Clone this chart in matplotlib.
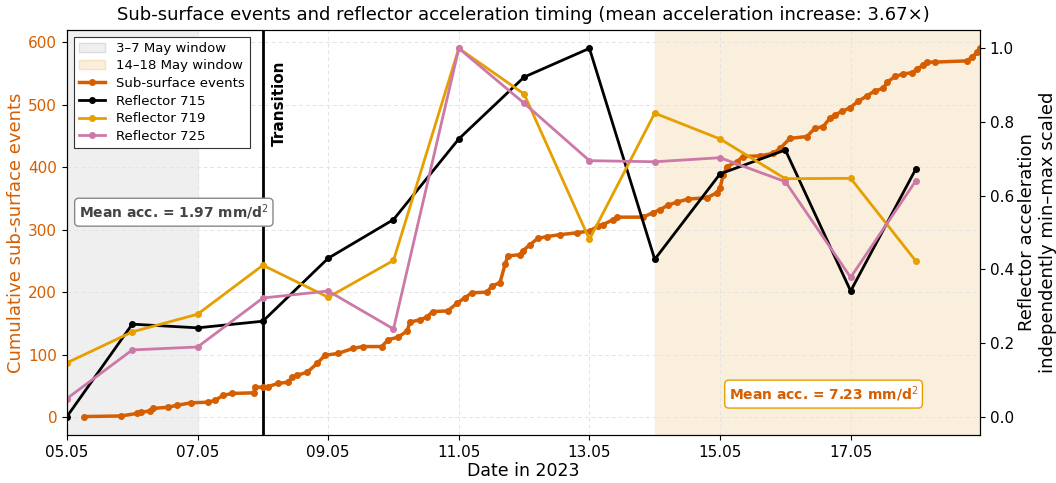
import numpy as np
import pandas as pd
import matplotlib
matplotlib.use("Agg")
import matplotlib.pyplot as plt
import matplotlib.dates as mdates
from matplotlib.patches import Patch
from matplotlib.lines import Line2D

# day of May 2023 (fractional) and cumulative count of sub-surface events
event_day = [5.26, 5.83, 6.07, 6.13, 6.27, 6.32, 6.55, 6.68, 6.90, 7.16, 7.27, 7.39, 7.53,
             7.86, 7.88, 8.00, 8.08, 8.23, 8.38, 8.45, 8.52, 8.68, 8.83, 8.95, 9.15, 9.38,
             9.53, 9.82, 9.92, 10.07, 10.21, 10.25, 10.41, 10.51, 10.60, 10.83, 10.97, 11.09,
             11.20, 11.43, 11.51, 11.63, 11.71, 11.75, 11.94, 11.98, 12.09, 12.21, 12.35,
             12.55, 12.81, 13.01, 13.13, 13.21, 13.36, 13.42, 13.82, 13.97, 14.08, 14.20,
             14.34, 14.51, 14.80, 14.95, 15.00, 15.05, 15.11, 15.26, 15.35, 15.61, 15.81,
             15.92, 16.07, 16.33, 16.45, 16.58, 16.68, 16.76, 16.87, 16.99, 17.11, 17.25,
             17.37, 17.50, 17.56, 17.68, 17.80, 17.94, 18.02, 18.11, 18.17, 18.29, 18.78,
             18.86, 18.94, 18.98]
event_count = [1, 2, 6, 8, 10, 14, 16, 19, 23, 24, 27, 35, 38,
               39, 48, 48, 49, 54, 56, 64, 67, 72, 86, 99, 102, 110,
               113, 113, 124, 128, 138, 152, 156, 160, 169, 170, 182, 191,
               199, 200, 210, 215, 245, 258, 260, 266, 276, 286, 289,
               292, 295, 298, 306, 308, 316, 320, 320, 327, 332, 339,
               344, 349, 351, 359, 367, 388, 401, 409, 417, 418, 422,
               430, 446, 449, 462, 465, 478, 484, 489, 495, 505, 514,
               522, 526, 536, 545, 549, 551, 557, 563, 568, 568, 570,
               576, 584, 590]

refl_day = [5, 6, 7, 8, 9, 10, 11, 12, 13, 14, 15, 16, 17, 18]
refl_715 = [0.0, 0.251, 0.241, 0.259, 0.430, 0.535, 0.754, 0.922, 1.0, 0.427, 0.659, 0.724, 0.341, 0.673]
refl_719 = [0.146, 0.230, 0.278, 0.411, 0.324, 0.424, 1.0, 0.876, 0.481, 0.824, 0.754, 0.646, 0.647, 0.422]
refl_725 = [0.049, 0.181, 0.189, 0.322, 0.341, 0.238, 1.0, 0.851, 0.695, 0.692, 0.703, 0.638, 0.378, 0.641]

mean_before = 1.97
mean_after = 7.23
ratio = 3.67


def may(d):
    d = np.asarray(d, dtype=float)
    return pd.Timestamp("2023-05-01") + pd.to_timedelta(d - 1, unit="D")


ev_t = may(event_day)
rf_t = may(refl_day)

c_ev = "#D55E00"
c_715 = "black"
c_719 = "#E69F00"
c_725 = "#CC79A7"

fig = plt.figure(figsize=(10.56, 4.83), dpi=100)
ax = fig.add_axes([0.0634, 0.0994, 0.8646, 0.8386])
ax2 = ax.twinx()

ax.axvspan(may(3), may(7), color="#EFEFEF", zorder=0)
ax.axvspan(may(14), may(19), color="#FAEFDC", zorder=0)
ax.axvline(may(8), color="black", lw=2, zorder=3)

ax.plot(ev_t, event_count, "-o", color=c_ev, lw=2.5, ms=4, zorder=4)

ax2.plot(rf_t, refl_715, "-o", color=c_715, lw=2, ms=4)
ax2.plot(rf_t, refl_719, "-o", color=c_719, lw=2, ms=4)
ax2.plot(rf_t, refl_725, "-o", color=c_725, lw=2, ms=4)

ax.set_xlim(may(5), may(18.98))
ax.grid(True, ls=(0, (4, 3)), color="#E4E4E4", lw=0.7)
ax.set_axisbelow(True)
ax.xaxis.set_major_locator(mdates.DayLocator(bymonthday=[5, 7, 9, 11, 13, 15, 17]))
ax.xaxis.set_major_formatter(mdates.DateFormatter("%d.%m"))
ax.tick_params(axis="both", labelsize=11)
ax.tick_params(axis="y", labelcolor=c_ev)
ax2.tick_params(axis="y", labelsize=11)
ax2.set_yticks([0, 0.2, 0.4, 0.6, 0.8, 1.0])

ax.set_xlabel("Date in 2023", fontsize=12.5, labelpad=2)
ax.set_ylabel("Cumulative sub-surface events", color=c_ev, fontsize=13, labelpad=2)
ax2.set_ylabel("Reflector acceleration\nindependently min\u2013max scaled", fontsize=13,
               labelpad=3)
ax.set_title("Sub-surface events and reflector acceleration timing "
             "(mean acceleration increase: %.2f\u00d7)" % ratio, fontsize=13, pad=7)

ax.text(may(8.25), 0.925, "Transition", rotation=90, fontsize=11, fontweight="bold",
        va="top", ha="center", transform=ax.get_xaxis_transform(), zorder=5)

ax.text(0.013, 0.55, "Mean acc. = %.2f mm/d$^2$" % mean_before, transform=ax.transAxes,
        fontsize=10, fontweight="bold", color="#444444", va="center", ha="left", zorder=6,
        bbox=dict(boxstyle="round,pad=0.3", fc="white", ec="#888888"))
ax2.text(0.725, 0.101, "Mean acc. = %.2f mm/d$^2$" % mean_after, transform=ax.transAxes,
         fontsize=10, fontweight="bold", color=c_ev, va="center", ha="left", zorder=6,
         bbox=dict(boxstyle="round,pad=0.3", fc="white", ec=c_719))

handles = [
    Patch(facecolor="#EFEFEF", edgecolor="#DDDDDD", label="3\u20137 May window"),
    Patch(facecolor="#FAEFDC", edgecolor="#F5E2C0", label="14\u201318 May window"),
    Line2D([], [], color=c_ev, lw=2.5, marker="o", ms=4, label="Sub-surface events"),
    Line2D([], [], color=c_715, lw=2, marker="o", ms=4, label="Reflector 715"),
    Line2D([], [], color=c_719, lw=2, marker="o", ms=4, label="Reflector 719"),
    Line2D([], [], color=c_725, lw=2, marker="o", ms=4, label="Reflector 725"),
]
leg = ax2.legend(handles=handles, loc="upper left", fontsize=9.5, framealpha=1,
                 edgecolor="#333333", fancybox=False, borderpad=0.4, labelspacing=0.35)
leg.get_frame().set_linewidth(0.8)

fig.savefig("out.png", dpi=100)
